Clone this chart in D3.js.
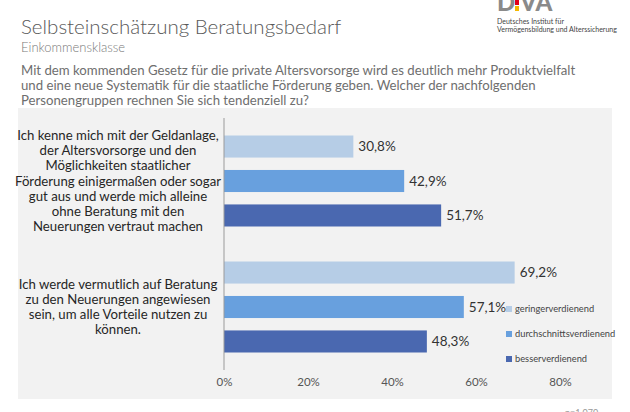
<!DOCTYPE html>
<html><head><meta charset="utf-8">
<script src="https://cdn.jsdelivr.net/npm/d3@7"></script>
<style>body{margin:0;background:#fff;}svg{display:block;font-family:Lato,"Open Sans",sans-serif;}</style>
</head><body>
<svg id="c" width="630" height="412"></svg>
<script>
const categories = ["q1", "q2"];
const categoryLabels = [
  ["Ich kenne mich mit der Geldanlage,", "der Altersvorsorge und den", "Möglichkeiten staatlicher", "Förderung einigermaßen oder sogar", "gut aus und werde mich alleine", "ohne Beratung mit den", "Neuerungen vertraut machen"],
  ["Ich werde vermutlich auf Beratung", "zu den Neuerungen angewiesen", "sein, um alle Vorteile nutzen zu", "können."]
];
const seriesNames = ["geringerverdienend", "durchschnittsverdienend", "besserverdienend"];
const geringer = [30.8, 69.2];
const durchschnitt = [42.9, 57.1];
const besser = [51.7, 48.3];
const tickValues = [0, 20, 40, 60, 80];
const colors = ["#b6cde6", "#68a0de", "#4a68b0"];

const svg = d3.select("#c");
const seriesVals = [geringer, durchschnitt, besser];

// header
svg.append("text").attr("x", 21).attr("y", 34).attr("font-size", 20.5).attr("font-weight", 300)
  .attr("fill", "#595959").text("Selbsteinschätzung Beratungsbedarf");
svg.append("text").attr("x", 21).attr("y", 52).attr("font-size", 13).attr("font-weight", 300)
  .attr("fill", "#7a7a7a").text("Einkommensklasse");
const q = ["Mit dem kommenden Gesetz für die private Altersvorsorge wird es deutlich mehr Produktvielfalt",
  "und eine neue Systematik für die staatliche Förderung geben. Welcher der nachfolgenden",
  "Personengruppen rechnen Sie sich tendenziell zu?"];
svg.append("g").selectAll("text").data(q).join("text")
  .attr("x", 21).attr("y", (d, i) => 75 + i * 15).attr("font-size", 13.2).attr("fill", "#6e6e6e").text(d => d);

// logo
const logo = svg.append("g");
logo.append("text").attr("x", 497).attr("y", 11).attr("font-size", 24).attr("font-weight", 900)
  .attr("fill", "#8a8a8a").text("D VA");
logo.append("rect").attr("x", 515).attr("y", 0).attr("width", 4).attr("height", 5).attr("fill", "#e2001a");
logo.append("rect").attr("x", 515).attr("y", 6).attr("width", 4).attr("height", 5).attr("fill", "#f5b800");
logo.append("text").attr("x", 497).attr("y", 24).attr("font-size", 7).attr("fill", "#444").text("Deutsches Institut für");
logo.append("text").attr("x", 497).attr("y", 32).attr("font-size", 7).attr("fill", "#444").text("Vermögensbildung und Alterssicherung");

// panel
svg.append("rect").attr("x", 18).attr("y", 108).attr("width", 594).attr("height", 291).attr("fill", "#f2f2f2");

const x = d3.scaleLinear().domain([0, 80]).range([224, 560]);
const y0 = d3.scaleBand().domain(categories).range([118, 370]).paddingInner(0).paddingOuter(0);
const y1 = d3.scaleBand().domain(seriesNames).range([17.5, y0.bandwidth() - 17.5]).paddingInner(0.36).paddingOuter(0);

const groups = svg.append("g").selectAll("g").data(categories).join("g")
  .attr("transform", d => `translate(0,${y0(d)})`);
groups.each(function (cat, ci) {
  const g = d3.select(this);
  seriesNames.forEach((s, si) => {
    const v = seriesVals[si][ci];
    g.append("rect").attr("x", x(0)).attr("y", y1(s)).attr("width", x(v) - x(0)).attr("height", y1.bandwidth())
      .attr("fill", colors[si]);
    g.append("text").attr("x", x(v) + 5).attr("y", y1(s) + y1.bandwidth() / 2).attr("dy", "0.35em")
      .attr("font-size", 13.5).attr("fill", "#333").text(v.toFixed(1).replace(".", ",") + "%");
  });
  const lines = categoryLabels[ci];
  const lh = 15.2;
  const cy = y0.bandwidth() / 2;
  g.append("text").attr("text-anchor", "middle").attr("font-size", 13.2).attr("fill", "#262626")
    .selectAll("tspan").data(lines).join("tspan")
    .attr("x", 118).attr("y", (d, i) => cy + (i - (lines.length - 1) / 2) * lh).attr("dy", "0.35em").text(d => d);
});

// axis line
svg.append("line").attr("x1", x(0)).attr("x2", x(0)).attr("y1", 118).attr("y2", 370)
  .attr("stroke", "#9a9a9a").attr("stroke-width", 1);

// x axis
const xAxis = d3.axisBottom(x).tickValues(tickValues).tickFormat(d => d + "%").tickSize(0).tickPadding(0);
const ax = svg.append("g").attr("transform", "translate(0,378)").call(xAxis);
ax.select(".domain").remove();
ax.selectAll("text").attr("font-size", 11.5).attr("fill", "#555").attr("font-family", "Lato, sans-serif");

// legend
const leg = svg.append("g").selectAll("g").data(seriesNames).join("g")
  .attr("transform", (d, i) => `translate(506,${309 + i * 25})`);
leg.append("rect").attr("x", 0).attr("y", -3).attr("width", 6).attr("height", 6).attr("fill", (d, i) => colors[i]);
leg.append("text").attr("x", 9).attr("dy", "0.35em").attr("font-size", 9.3).attr("fill", "#444").text(d => d);

// faint footer
svg.append("text").attr("x", 565).attr("y", 416).attr("font-size", 9).attr("fill", "#999").text("n=1.070");
</script>
</body></html>
